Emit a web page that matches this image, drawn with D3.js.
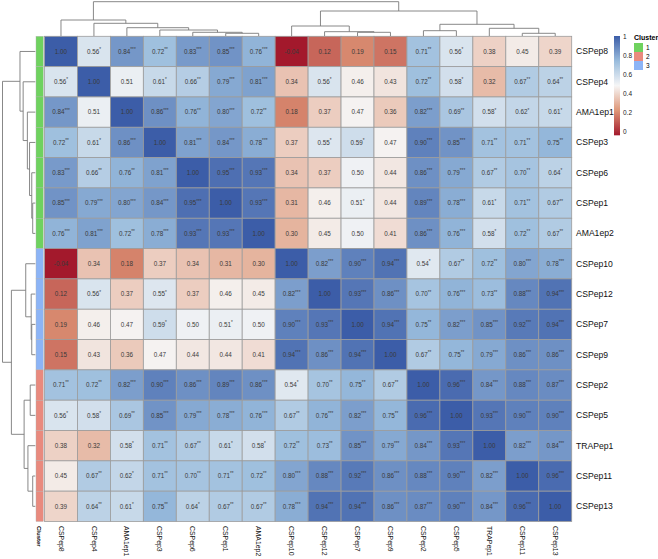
<!DOCTYPE html>
<html>
<head>
<meta charset="utf-8">
<script src="https://cdn.jsdelivr.net/npm/d3@7.9.0/dist/d3.min.js"></script>
<style>
  body { margin: 0; background: #fff; }
  text { font-family: Arial, "Liberation Sans", sans-serif; }
</style>
</head>
<body>
<svg id="chart" width="658" height="559"></svg>
<script>
// peptide order, as clustered (rows == columns)
const labels = ['CSPep8', 'CSPep4', 'AMA1ep1', 'CSPep3', 'CSPep6', 'CSPep1', 'AMA1ep2', 'CSPep10',
    'CSPep12', 'CSPep7', 'CSPep9', 'CSPep2', 'CSPep5', 'TRAPep1', 'CSPep11', 'CSPep13'];

// cluster annotation per row
const clusterOf = [1, 1, 1, 1, 1, 1, 1, 3, 3, 3, 3, 2, 2, 2, 2, 2];
const clusterNames = ['1', '2', '3'];
const clusterColors = ['#6fd25f', '#e98a7e', '#8cb4f6'];

// correlation matrix, value + significance stars
const corr = [
    ['1.00', '0.56*', '0.84***', '0.72**', '0.83***', '0.85***', '0.76***', '-0.04', '0.12', '0.19', '0.15', '0.71**', '0.56*', '0.38', '0.45', '0.39'],
    ['0.56*', '1.00', '0.51', '0.61*', '0.66**', '0.79***', '0.81***', '0.34', '0.56*', '0.46', '0.43', '0.72**', '0.58*', '0.32', '0.67**', '0.64**'],
    ['0.84***', '0.51', '1.00', '0.86***', '0.76**', '0.80***', '0.72**', '0.18', '0.37', '0.47', '0.36', '0.82***', '0.69**', '0.58*', '0.62*', '0.61*'],
    ['0.72**', '0.61*', '0.86***', '1.00', '0.81***', '0.84***', '0.78***', '0.37', '0.55*', '0.59*', '0.47', '0.90***', '0.85***', '0.71**', '0.71**', '0.75**'],
    ['0.83***', '0.66**', '0.76**', '0.81***', '1.00', '0.95***', '0.93***', '0.34', '0.37', '0.50', '0.44', '0.86***', '0.79***', '0.67**', '0.70**', '0.64*'],
    ['0.85***', '0.79***', '0.80***', '0.84***', '0.95***', '1.00', '0.93***', '0.31', '0.46', '0.51*', '0.44', '0.89***', '0.78***', '0.61*', '0.71**', '0.67**'],
    ['0.76***', '0.81***', '0.72**', '0.78***', '0.93***', '0.93***', '1.00', '0.30', '0.45', '0.50', '0.41', '0.86***', '0.76***', '0.58*', '0.72**', '0.67**'],
    ['-0.04', '0.34', '0.18', '0.37', '0.34', '0.31', '0.30', '1.00', '0.82***', '0.90***', '0.94***', '0.54*', '0.67**', '0.72**', '0.80***', '0.78***'],
    ['0.12', '0.56*', '0.37', '0.55*', '0.37', '0.46', '0.45', '0.82***', '1.00', '0.93***', '0.86***', '0.70**', '0.76***', '0.73**', '0.88***', '0.94***'],
    ['0.19', '0.46', '0.47', '0.59*', '0.50', '0.51*', '0.50', '0.90***', '0.93***', '1.00', '0.94***', '0.75**', '0.82***', '0.85***', '0.92***', '0.94***'],
    ['0.15', '0.43', '0.36', '0.47', '0.44', '0.44', '0.41', '0.94***', '0.86***', '0.94***', '1.00', '0.67**', '0.75**', '0.79***', '0.86***', '0.86***'],
    ['0.71**', '0.72**', '0.82***', '0.90***', '0.86***', '0.89***', '0.86***', '0.54*', '0.70**', '0.75**', '0.67**', '1.00', '0.96***', '0.84***', '0.88***', '0.87***'],
    ['0.56*', '0.58*', '0.69**', '0.85***', '0.79***', '0.78***', '0.76***', '0.67**', '0.76***', '0.82***', '0.75**', '0.96***', '1.00', '0.93***', '0.90***', '0.90***'],
    ['0.38', '0.32', '0.58*', '0.71**', '0.67**', '0.61*', '0.58*', '0.72**', '0.73**', '0.85***', '0.79***', '0.84***', '0.93***', '1.00', '0.82***', '0.84***'],
    ['0.45', '0.67**', '0.62*', '0.71**', '0.70**', '0.71**', '0.72**', '0.80***', '0.88***', '0.92***', '0.86***', '0.88***', '0.90***', '0.82***', '1.00', '0.96***'],
    ['0.39', '0.64**', '0.61*', '0.75**', '0.64*', '0.67**', '0.67**', '0.78***', '0.94***', '0.94***', '0.86***', '0.87***', '0.90***', '0.84***', '0.96***', '1.00']
];

// dendrogram: [mergeHeight, left, right], leaves are indices into labels
const dendro = [3.43,
    [1.60, 0, [1.27, 1, [0.83, 2, [0.60, 3, [0.37, 4, [0.27, 5, 6]]]]]],
    [2.50,
        [1.00, 7, [0.43, 8, [0.37, 9, 10]]],
        [1.17, [0.53, 11, 12], [0.77, 13, [0.27, 14, 15]]]]];

const legendTicks = [0, 0.2, 0.4, 0.6, 0.8, 1];

const svg = d3.select('#chart');
const n = labels.length;

const x = d3.scaleBand().domain(d3.range(n)).range([44.5, 571.7]);
const y = d3.scaleBand().domain(d3.range(n)).range([36.3, 521.5]);

const color = d3.scaleLinear()
    .domain([-0.04, 0.22, 0.48, 0.74, 1])
    .range(['#a3192c', '#de9677', '#f6f6f6', '#98bbdc', '#3c5da8']);

const cells = [];
corr.forEach((row, i) => row.forEach((s, j) => {
    const m = s.match(/^(-?[\d.]+)(\**)$/);
    cells.push({ i, j, v: +m[1], num: m[1], stars: m[2] });
}));

// heatmap cells
svg.append('g')
    .selectAll('rect')
    .data(cells)
    .join('rect')
    .attr('x', d => x(d.j))
    .attr('y', d => y(d.i))
    .attr('width', x.bandwidth())
    .attr('height', y.bandwidth())
    .attr('fill', d => color(d.v))
    .attr('stroke', '#9c9c9c')
    .attr('stroke-width', 0.8);

const txt = svg.append('g')
    .selectAll('text')
    .data(cells)
    .join('text')
    .attr('x', d => x(d.j) + x.bandwidth() / 2)
    .attr('y', d => y(d.i) + y.bandwidth() / 2)
    .attr('dy', '0.35em')
    .attr('text-anchor', 'middle')
    .attr('font-size', '6.3px')
    .attr('fill', '#3a3a3a');
txt.append('tspan').text(d => d.num);
txt.append('tspan')
    .attr('font-size', '4.6px')
    .attr('dy', '-0.6em')
    .text(d => d.stars);

// row annotation
svg.append('g')
    .selectAll('rect')
    .data(clusterOf)
    .join('rect')
    .attr('x', 36)
    .attr('y', (d, i) => y(i))
    .attr('width', 7.3)
    .attr('height', y.bandwidth())
    .attr('fill', d => clusterColors[d - 1])
    .attr('stroke', '#b0b0b0')
    .attr('stroke-width', 0.4);

// row labels
svg.append('g')
    .selectAll('text')
    .data(labels)
    .join('text')
    .attr('x', 576)
    .attr('y', (d, i) => y(i) + y.bandwidth() / 2)
    .attr('dy', '0.35em')
    .attr('font-size', '8.6px')
    .attr('fill', '#111')
    .text(d => d);

// column labels
svg.append('g')
    .selectAll('text')
    .data(labels)
    .join('text')
    .attr('transform', (d, i) => `translate(${x(i) + x.bandwidth() / 2}, 526) rotate(90)`)
    .attr('dy', '0.35em')
    .attr('font-size', '6.9px')
    .attr('fill', '#111')
    .text(d => d);

svg.append('text')
    .attr('transform', 'translate(39.6, 526) rotate(90)')
    .attr('dy', '0.35em')
    .attr('font-size', '6px')
    .attr('font-weight', 'bold')
    .text('Cluster');

// dendrograms
function walk(node, segs, pos) {
    if (typeof node === 'number') return { p: pos(node), h: 0 };
    const [h, a, b] = node;
    const A = walk(a, segs, pos), B = walk(b, segs, pos);
    segs.push({ h, p1: A.p, h1: A.h, p2: B.p, h2: B.h });
    return { p: (A.p + B.p) / 2, h };
}

const colSegs = [];
walk(dendro, colSegs, i => x(i) + x.bandwidth() / 2);
const hCol = d3.scaleLinear().domain([0, dendro[0]]).range([36, 1.7]);
svg.append('g')
    .selectAll('path')
    .data(colSegs)
    .join('path')
    .attr('d', s => `M${s.p1},${hCol(s.h1)}V${hCol(s.h)}H${s.p2}V${hCol(s.h2)}`)
    .attr('fill', 'none')
    .attr('stroke', '#7a7a7a')
    .attr('stroke-width', 0.9);

const rowSegs = [];
walk(dendro, rowSegs, i => y(i) + y.bandwidth() / 2);
const hRow = d3.scaleLinear().domain([0, dendro[0]]).range([35.3, 2.5]);
svg.append('g')
    .selectAll('path')
    .data(rowSegs)
    .join('path')
    .attr('d', s => `M${hRow(s.h1)},${s.p1}H${hRow(s.h)}V${s.p2}H${hRow(s.h2)}`)
    .attr('fill', 'none')
    .attr('stroke', '#7a7a7a')
    .attr('stroke-width', 0.9);

// colour legend
const ly = d3.scaleLinear().domain([0, 1]).range([131.5, 36]);
const grad = svg.append('defs').append('linearGradient')
    .attr('id', 'grad')
    .attr('x1', 0).attr('x2', 0).attr('y1', 1).attr('y2', 0);
d3.range(0, 1.0001, 0.05).forEach(t => {
    const v = -0.04 + t * 1.04;
    grad.append('stop').attr('offset', t).attr('stop-color', color(v));
});
svg.append('rect')
    .attr('x', 614)
    .attr('y', ly(1))
    .attr('width', 6)
    .attr('height', ly(-0.04) - ly(1))
    .attr('fill', 'url(#grad)');

svg.append('g')
    .attr('transform', 'translate(620,0)')
    .call(d3.axisRight(ly).tickValues(legendTicks).tickSize(0).tickPadding(3).tickFormat(d3.format('~g')))
    .call(g => g.select('.domain').remove())
    .call(g => g.selectAll('text')
        .attr('font-size', '6.5px')
        .attr('font-family', 'Arial, "Liberation Sans", sans-serif')
        .attr('fill', '#222'));

// cluster legend
svg.append('text')
    .attr('x', 634)
    .attr('y', 40)
    .attr('font-size', '7px')
    .attr('font-weight', 'bold')
    .text('Cluster');

const cl = svg.append('g')
    .selectAll('g')
    .data(clusterNames)
    .join('g')
    .attr('transform', (d, i) => `translate(634, ${43 + i * 9})`);
cl.append('rect')
    .attr('width', 9)
    .attr('height', 9)
    .attr('fill', (d, i) => clusterColors[i]);
cl.append('text')
    .attr('x', 12)
    .attr('y', 4.5)
    .attr('dy', '0.35em')
    .attr('font-size', '6.5px')
    .text(d => d);
</script>
</body>
</html>
